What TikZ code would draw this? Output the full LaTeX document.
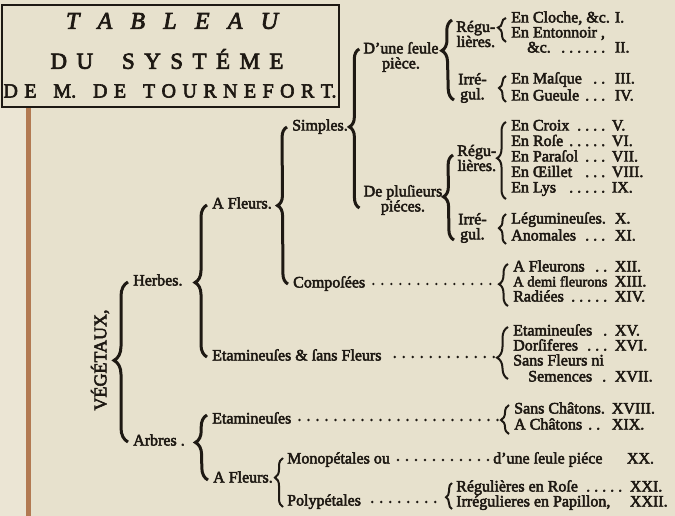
\documentclass[tikz,border=0pt]{standalone}
\usepackage{fontspec}
\setmainfont{Liberation Serif}[FakeBold=3]
\usetikzlibrary{decorations.pathreplacing}

\definecolor{paper}{HTML}{E7E1CD}
\definecolor{ink}{HTML}{1E1913}
\definecolor{rust}{HTML}{B27A52}

% dotted leaders inside the entries
\newcommand\pts{\leaders\hbox to 8pt{\hss.\hss}\hfill}
\newcommand\ent[3]{\makebox[#1pt][l]{#2\ \pts}\,#3}

\tikzset{
  every node/.style={inner sep=1pt, text=ink, font=\fontsize{16}{15}\selectfont},
  leaf/.style={anchor=west, text height=10pt, text depth=3pt},
  twol/.style={align=center},
  brc/.style={draw=ink, line width=3pt, decorate, decoration={brace, amplitude=#1}},
  sbrc/.style={brc=#1, line width=2pt},
  tipat/.style={decoration={aspect=#1}},
  leader/.style={draw=ink, line width=2.7pt, line cap=round, dash pattern=on 0pt off 9pt},
}

\begin{document}
\begin{tikzpicture}[x=1pt, y=-1pt]
\fill[paper] (0,0) rectangle (675,516);
\useasboundingbox (0,0) rectangle (675,516);
\fill[paper!85!white] (0,108) rectangle (26,516);
\draw[rust, line width=5pt] (28,108) -- (28,516);

% title
\draw[ink, line width=1.2pt] (2,5) rectangle (339,107);
\node (tab) at (172,21) {\fontsize{24}{24}\selectfont\itshape\makebox[212pt][s]{T A B L E A U}};
\node (sys) at (167,59) {\fontsize{23}{23}\selectfont\makebox[233pt][s]{D U \hspace{10pt} S Y S T É M E}};
\node (tourn) at (170,91) {\fontsize{20}{20}\selectfont\makebox[333pt][s]{D E \hspace{4pt} M. \hspace{4pt} D E \hspace{4pt} T O U R N E F O R T.}};

% tree
\node[rotate=90, font=\fontsize{18}{18}\selectfont] (veg) at (100,360) {VÉGÉTAUX,};
\node[leaf] (herbes) at (132,282) {Herbes.};
\node[leaf] (arbres) at (132,442) {Arbres .};
\node[leaf] (afl) at (211,205) {A Fleurs.};
\node[leaf] (etam) at (211,357) {Etamineuſes \& ſans Fleurs};
\node[leaf] (simp) at (291,127) {Simples.};
\node[leaf] (comp) at (292,284) {Compoſées};
\node[twol] (dune) at (401,57) {D’une ſeule\\pièce.};
\node[twol] (depl) at (403,200) {De pluſieurs\\piéces.};
\node[twol, anchor=west] (regu1) at (455,34) {Régu-\\lières.};
\node[twol, anchor=west] (irr1) at (457,88) {Irré-\\gul.};
\node[twol, anchor=west] (regu2) at (456,158) {Régu-\\lières.};
\node[twol, anchor=west] (irr2) at (457,228) {Irré-\\gul.};
\node[leaf] (etamA) at (211,420) {Etamineuſes};
\node[leaf] (aflA) at (212,479) {A Fleurs.};
\node[leaf] (mono) at (286,460) {Monopétales ou};
\node[leaf] (poly) at (286,502) {Polypétales};
\node[leaf] (seule) at (492,460) {\makebox[131pt][l]{d’une ſeule piéce}\,XX.};

% classes
\node[leaf] (cloche) at (510,19) {\ent{101}{En Cloche, \&c.}{I.}};
\node[leaf] (enton) at (510,34) {En Entonnoir ,};
\node[leaf] (entc) at (526,49) {\ent{85}{\&c.}{II.}};
\node[leaf] (masque) at (510,80) {\ent{101}{En Maſque}{III.}};
\node[leaf] (gueule) at (510,97) {\ent{101}{En Gueule}{IV.}};
\foreach \t/\n [count=\k] in {En Croix/V., En Roſe/VI., En Paraſol/VII., En Œillet/VIII., En Lys/IX.}
    \node[leaf] (fl\k) at (510,{111.5+15.5*\k}) {\ent{98}{\t}{\n}};
\node[leaf] (legum) at (510,220) {\ent{101}{Légumineuſes.}{X.}};
\node[leaf] (anom) at (510,237) {\ent{101}{Anomales}{XI.}};
\foreach \t/\n [count=\k] in {A Fleurons/XII., {\fontsize{14.5}{15}\selectfont A demi fleurons}/XIII., Radiées/XIV.}
    \node[leaf] (cp\k) at (512,{253+15*\k}) {\ent{99}{\t}{\n}};
\node[leaf] (xv) at (512,332) {\ent{99}{Etamineuſes}{XV.}};
\node[leaf] (xvi) at (512,347) {\ent{99}{Dorſiferes}{XVI.}};
\node[leaf] (sfn) at (512,362) {Sans Fleurs ni};
\node[leaf] (semen) at (527,378) {\ent{84}{Semences}{XVII.}};
\node[leaf] (sansch) at (513,410) {\ent{95}{Sans Châtons.}{XVIII.}};
\node[leaf] (ach) at (513,426) {\ent{95}{A Châtons}{XIX.}};
\node[leaf] (rose) at (455,488) {\ent{171}{Régulières en Roſe}{XXI.}};
\node[leaf] (papil) at (455,503) {\makebox[171pt][l]{Irrégulieres en Papillon,}\,XXII.};

% braces
\draw[brc=14pt, tipat=0.51] ([xshift=-4pt]arbres.west) -- ([xshift=-4pt]herbes.west);
\draw[brc=12pt, tipat=0.49] ([xshift=-4pt]etam.west) -- ([xshift=-4pt]afl.west);
\draw[brc=10pt, tipat=0.50] ([xshift=-4pt]comp.west) -- ([xshift=-4pt]simp.west);
\draw[brc=10pt, tipat=0.51] ([xshift=-3pt,yshift=-8pt]depl.west) -- ([xshift=-3pt,yshift=8pt]dune.west);
\draw[brc=11pt, tipat=0.62] ([xshift=-3pt,yshift=-12pt]irr1.west) -- ([xshift=-3pt,yshift=14pt]regu1.west);
\draw[brc=10pt, tipat=0.51] ([xshift=-3pt,yshift=-12pt]irr2.west) -- ([xshift=-3pt,yshift=3pt]regu2.west);
\draw[brc=12pt, tipat=0.58] ([xshift=-4pt,yshift=-1pt]aflA.west) -- ([xshift=-4pt,yshift=5pt]etamA.west);
\draw[sbrc=8pt, tipat=0.6] ([xshift=-3pt,yshift=-5pt]poly.west) -- ([xshift=-3pt,yshift=2pt]mono.west);
\draw[sbrc=8pt, tipat=0.6] ([xshift=-4pt,yshift=-8pt]enton.west) -- ([xshift=-4pt,yshift=1pt]cloche.west);
\draw[sbrc=7pt, tipat=0.54] ([xshift=-4pt,yshift=-5pt]gueule.west) -- ([xshift=-4pt,yshift=4pt]masque.west);
\draw[sbrc=9pt, tipat=0.53] ([xshift=-4pt,yshift=-10pt]fl5.west) -- ([xshift=-4pt,yshift=5pt]fl1.west);
\draw[sbrc=7pt, tipat=0.53] ([xshift=-4pt,yshift=-7pt]anom.west) -- ([xshift=-4pt,yshift=6pt]legum.west);
\draw[sbrc=9pt, tipat=0.52] ([xshift=-4pt,yshift=-8pt]cp3.west) -- ([xshift=-4pt,yshift=4pt]cp1.west);
\draw[sbrc=11pt, tipat=0.41] ([xshift=-4pt,yshift=-1pt]sfn.west |- semen.west) -- ([xshift=-4pt,yshift=5pt]xv.west);
\draw[sbrc=8pt, tipat=0.48] ([xshift=-4pt,yshift=-8pt]ach.west) -- ([xshift=-4pt,yshift=5pt]sansch.west);
\draw[sbrc=6pt, tipat=0.45] ([xshift=-3pt,yshift=-6pt]papil.west) -- ([xshift=-3pt,yshift=5pt]rose.west);

% leaders
\coordinate (tcomp) at (497,284);
\coordinate (tetam) at (494,357);
\coordinate (tetamA) at (499,420);
\coordinate (tpoly) at (443,502);
\draw[leader] ([xshift=7pt]comp.east) -- (tcomp);
\draw[leader] ([xshift=12pt]etam.east) -- (tetam);
\draw[leader] ([xshift=7pt]etamA.east) -- (tetamA);
\draw[leader] ([xshift=7pt]mono.east) -- ([xshift=-2pt]seule.west);
\draw[leader] ([xshift=10pt]poly.east) -- (tpoly);
\end{tikzpicture}
\end{document}
